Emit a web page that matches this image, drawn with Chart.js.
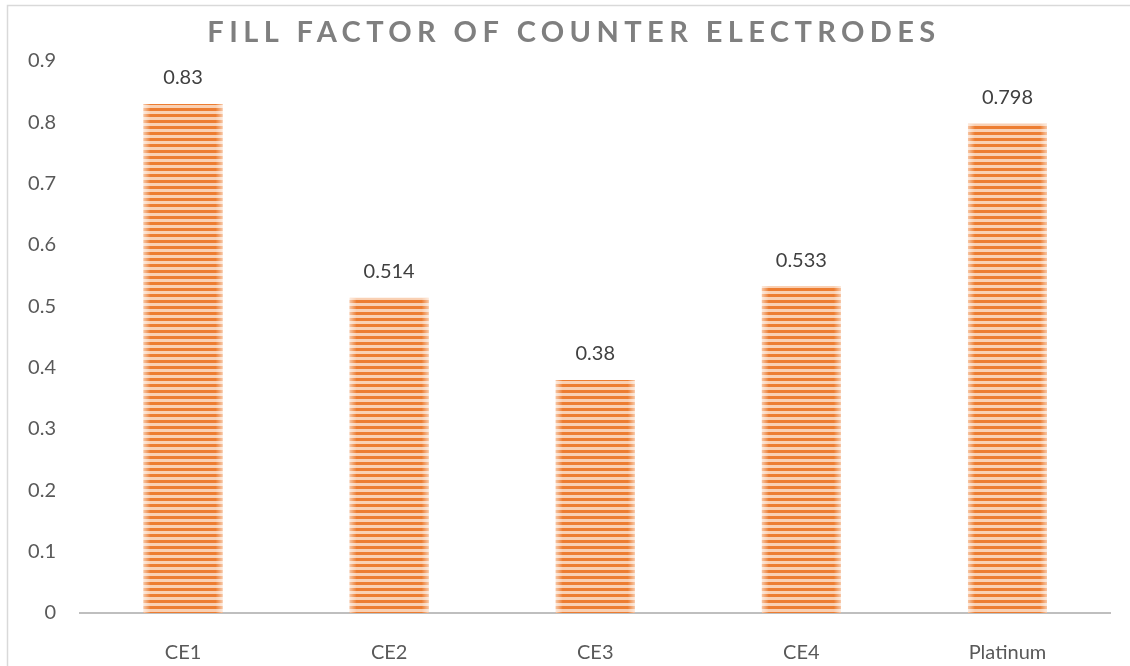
<!DOCTYPE html>
<html>
<head>
<meta charset="utf-8">
<title>Fill Factor of Counter Electrodes</title>
<script src="https://cdn.jsdelivr.net/npm/chart.js@4"></script>
<style>
  html, body { margin: 0; padding: 0; background: #ffffff; }
  #wrap { width: 1130px; height: 666px; position: relative; }
</style>
</head>
<body>
<div id="wrap"><canvas id="chart" width="1130" height="666"></canvas></div>
<script>
// Chart data
const chartTitle = 'FILL FACTOR OF COUNTER ELECTRODES';
const categories = ['CE1', 'CE2', 'CE3', 'CE4', 'Platinum'];
const fillFactor = [0.83, 0.514, 0.38, 0.533, 0.798];
const valueLabels = ['0.83', '0.514', '0.38', '0.533', '0.798'];
const yTicks = [0, 0.1, 0.2, 0.3, 0.4, 0.5, 0.6, 0.7, 0.8, 0.9];

const FONT = 'Lato, "Open Sans", "Liberation Sans", sans-serif';

// Horizontal stripe fill for the bars
function makeStripes() {
  const c = document.createElement('canvas');
  c.width = 8; c.height = 6;
  const g = c.getContext('2d');
  g.fillStyle = '#F9D0B3';
  g.fillRect(0, 0, 8, 6);
  g.fillStyle = '#ED7D31';
  g.fillRect(0, 0, 8, 3);
  return g.createPattern(c, 'repeat');
}

// Light frame round the chart
const framePlugin = {
  id: 'frame',
  beforeDraw(chart) {
    const ctx = chart.ctx;
    ctx.save();
    ctx.strokeStyle = '#D9D9D9';
    ctx.lineWidth = 1.5;
    ctx.beginPath();
    ctx.moveTo(7.5, chart.height + 2);
    ctx.lineTo(7.5, 5.5);
    ctx.lineTo(chart.width + 2, 5.5);
    ctx.stroke();
    ctx.restore();
  }
};

// Spaced-out bold title
const titlePlugin = {
  id: 'spacedTitle',
  afterDraw(chart) {
    const ctx = chart.ctx;
    ctx.save();
    ctx.font = 'bold 29px ' + FONT;
    if ('letterSpacing' in ctx) ctx.letterSpacing = '5.4px';
    ctx.fillStyle = '#7F7F7F';
    ctx.textAlign = 'center';
    ctx.textBaseline = 'middle';
    ctx.fillText(chartTitle, 574, 33);
    ctx.restore();
  }
};

// Soft lighter edges on each bar and value labels above
const barExtrasPlugin = {
  id: 'barExtras',
  afterDatasetsDraw(chart) {
    const ctx = chart.ctx;
    const meta = chart.getDatasetMeta(0);
    ctx.save();
    meta.data.forEach((bar, i) => {
      const left = bar.x - bar.width / 2;
      const right = bar.x + bar.width / 2;
      const top = bar.y, bottom = bar.base;
      const w = 7;
      let gr = ctx.createLinearGradient(left, 0, left + w, 0);
      gr.addColorStop(0, 'rgba(255,255,255,0.55)');
      gr.addColorStop(1, 'rgba(255,255,255,0)');
      ctx.fillStyle = gr;
      ctx.fillRect(left, top, w, bottom - top);
      gr = ctx.createLinearGradient(right - w, 0, right, 0);
      gr.addColorStop(0, 'rgba(255,255,255,0)');
      gr.addColorStop(1, 'rgba(255,255,255,0.55)');
      ctx.fillStyle = gr;
      ctx.fillRect(right - w, top, w, bottom - top);

      ctx.fillStyle = '#404040';
      ctx.font = '20px ' + FONT;
      ctx.textAlign = 'center';
      ctx.textBaseline = 'middle';
      ctx.fillText(valueLabels[i], bar.x, top - 26);
    });
    ctx.restore();
  }
};

new Chart(document.getElementById('chart'), {
  type: 'bar',
  data: {
    labels: categories,
    datasets: [{
      label: 'Fill factor',
      data: fillFactor,
      backgroundColor: makeStripes(),
      borderWidth: 0,
      barPercentage: 0.383,
      categoryPercentage: 1.0
    }]
  },
  options: {
    responsive: false,
    animation: false,
    devicePixelRatio: 1,
    layout: { padding: { top: 61, left: 8, right: 19.5, bottom: 0 } },
    plugins: {
      legend: { display: false },
      title: { display: false },
      tooltip: { enabled: false }
    },
    scales: {
      x: {
        grid: { display: false, drawTicks: false },
        border: { display: true, color: '#BFBFBF', width: 2 },
        ticks: {
          color: '#595959',
          font: { family: FONT, size: 20 },
          padding: 28
        },
        afterFit(scale) { scale.height = 53; }
      },
      y: {
        min: 0,
        max: 0.9,
        afterBuildTicks(scale) { scale.ticks = yTicks.map(v => ({ value: v })); },
        grid: { display: false, drawTicks: false },
        border: { display: false },
        ticks: {
          color: '#595959',
          font: { family: FONT, size: 20 },
          padding: 24,
          callback: v => String(Math.round(v * 10) / 10)
        },
        afterFit(scale) { scale.width = 72; }
      }
    }
  },
  plugins: [framePlugin, barExtrasPlugin, titlePlugin]
});
</script>
</body>
</html>
